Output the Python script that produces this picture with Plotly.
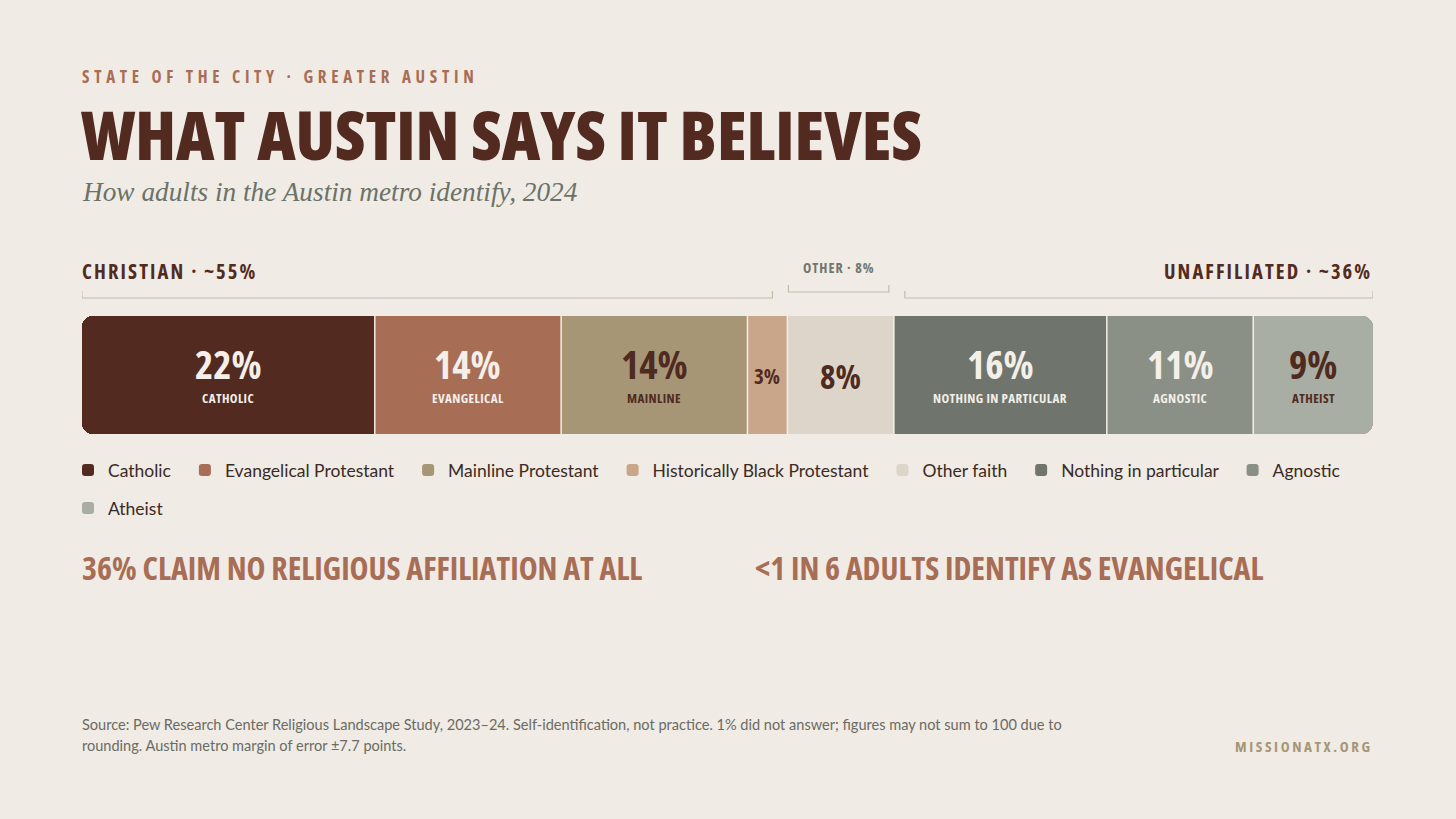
import plotly.graph_objects as go

# ---------------- data ----------------
categories = ["Catholic", "Evangelical Protestant", "Mainline Protestant",
              "Historically Black Protestant", "Other faith",
              "Nothing in particular", "Agnostic", "Atheist"]
values = [22, 14, 14, 3, 8, 16, 11, 9]
bar_sublabels = ["CATHOLIC", "EVANGELICAL", "MAINLINE", "", "",
                 "NOTHING IN PARTICULAR", "AGNOSTIC", "ATHEIST"]
legend_rows = ["legend", "legend", "legend", "legend", "legend", "legend", "legend", "legend2"]
group_names = ["CHRISTIAN · ~55%", "OTHER · 8%", "UNAFFILIATED · ~36%"]
group_members = [[0, 1, 2, 3], [4], [5, 6, 7]]
insights = ["36% CLAIM NO RELIGIOUS AFFILIATION AT ALL",
            "<1 IN 6 ADULTS IDENTIFY AS EVANGELICAL"]

# ---------------- style ----------------
BG = "#f0ebe5"
colors = ["#522a20", "#a86d55", "#a69676", "#c9a58a", "#ddd5ca",
          "#6f756c", "#8a9085", "#a8aea3"]
label_colors = ["#f4efe8", "#f4efe8", "#4f2a20", "#4f2a20", "#4f2a20",
                "#f4efe8", "#f4efe8", "#4f2a20"]
DARK = "#522a20"
RUST = "#a86d55"
COND = "Open Sans, Roboto Condensed, sans-serif"
SANS = "Lato"
SERIF = "Liberation Serif"

FIG_W, FIG_H = 1456, 819
L, R = 82, 1373
TOP, BOT = 316, 434
PW, PH = R - L, BOT - TOP


def px_x(p):
    return (p - L) / PW


def px_y(p):
    return (BOT - p) / PH


def ctext(s, ls=0):
    s = s.replace("<", "&lt;")
    return f"<span style='font-stretch:75%;letter-spacing:{ls}px'>{s}</span>"


signed = [-values[0]] + values[1:]
left_end = -values[0]
right_end = sum(values[1:])
span = right_end - left_end
starts = []
acc = left_end
for v in values:
    starts.append(acc)
    acc += v
mids = [s + v / 2 for s, v in zip(starts, values)]

fig = go.Figure()
for i, (c, v) in enumerate(zip(categories, signed)):
    fig.add_trace(go.Bar(
        x=[v], y=["all"], orientation="h", name=c + "\u00a0\u00a0", legend=legend_rows[i],
        marker=dict(color=colors[i], line=dict(width=0)),
        customdata=[values[i]],
        hovertemplate=c + ": %{customdata}%<extra></extra>",
    ))

shapes = []
for b in starts[1:]:
    shapes.append(dict(type="line", xref="x", yref="paper", x0=b, x1=b, y0=0, y1=1,
                       line=dict(color="#f3efe9", width=1.5)))

annotations = []
for i, v in enumerate(values):
    if bar_sublabels[i]:
        big = 39 if v >= 9 else 31
        annotations.append(dict(
            x=mids[i], y=px_y(363), xref="x", yref="paper", showarrow=False,
            text=ctext(f"{v}%"), font=dict(family=COND, size=big, color=label_colors[i], weight=700),
            xanchor="center", yanchor="middle"))
        annotations.append(dict(
            x=mids[i], y=px_y(398), xref="x", yref="paper", showarrow=False,
            text=ctext(bar_sublabels[i], 0.4), font=dict(family=COND, size=13, color=label_colors[i], weight=700),
            xanchor="center", yanchor="middle"))
    else:
        size = 33 if v >= 5 else 21
        annotations.append(dict(
            x=mids[i], y=px_y(376), xref="x", yref="paper", showarrow=False,
            text=ctext(f"{v}%"), font=dict(family=COND, size=size, color=label_colors[i], weight=700),
            xanchor="center", yanchor="middle"))

px2data = span / PW
bracket_cfg = [
    (0, 15, 298, DARK, 20.5, "left", 2.1),
    (1, 5, 292, "#6f756c", 14, "center", 1.0),
    (11, 0, 298, DARK, 20.5, "right", 2.1),
]
for g, members in enumerate(group_members):
    gx0 = starts[members[0]]
    gx1 = starts[members[-1]] + values[members[-1]]
    li, ri, ly, lc, ls, al, sp = bracket_cfg[g]
    x0 = gx0 + li * px2data
    x1 = gx1 - ri * px2data
    shapes.append(dict(
        type="path", xref="x", yref="paper",
        path=f"M {x0},{px_y(ly - 7)} L {x0},{px_y(ly)} L {x1},{px_y(ly)} L {x1},{px_y(ly - 7)}",
        line=dict(color="#c6bcac", width=1.2)))
    if al == "left":
        ax, xa = x0, "left"
    elif al == "right":
        ax, xa = x1, "right"
    else:
        ax, xa = (x0 + x1) / 2, "center"
    ly_text = 271 if g != 1 else 267
    annotations.append(dict(
        x=ax, y=px_y(ly_text), xref="x", yref="paper", showarrow=False,
        text=ctext(group_names[g], sp),
        font=dict(family=COND, size=ls, color=lc, weight=700),
        xanchor=xa, yanchor="middle", xshift=-2 if xa == "left" else (1 if xa == "right" else 0)))

annotations += [
    dict(x=px_x(80), y=px_y(76), xref="paper", yref="paper", showarrow=False,
         text=ctext("STATE OF THE CITY · GREATER AUSTIN", 4.7),
         font=dict(family=COND, size=17, color=RUST, weight=700),
         xanchor="left", yanchor="middle"),
    dict(x=px_x(79), y=px_y(134), xref="paper", yref="paper", showarrow=False,
         text=ctext("WHAT AUSTIN SAYS IT BELIEVES"),
         font=dict(family=COND, size=67, color=DARK, weight=800),
         xanchor="left", yanchor="middle"),
    dict(x=px_x(80), y=px_y(192), xref="paper", yref="paper", showarrow=False,
         text="<i>How adults in the Austin metro identify, 2024</i>",
         font=dict(family=SERIF, size=27.3, color="#6b7266"),
         xanchor="left", yanchor="middle"),
]
ins_x = [80, 753]
for t, xp in zip(insights, ins_x):
    annotations.append(dict(
        x=px_x(xp), y=px_y(567), xref="paper", yref="paper", showarrow=False,
        text=ctext(t), font=dict(family=COND, size=32, color=RUST, weight=700),
        xanchor="left", yanchor="middle"))

annotations += [
    dict(x=px_x(80), y=px_y(724), xref="paper", yref="paper", showarrow=False,
         text="Source: Pew Research Center Religious Landscape Study, 2023–24. Self-identification, not practice. 1% did not answer; figures may not sum to 100 due to",
         font=dict(family=SANS, size=14.55, color="#6b6b63"), xanchor="left", yanchor="middle"),
    dict(x=px_x(80), y=px_y(745), xref="paper", yref="paper", showarrow=False,
         text="rounding. Austin metro margin of error ±7.7 points.",
         font=dict(family=SANS, size=14.55, color="#6b6b63"), xanchor="left", yanchor="middle"),
    dict(x=px_x(1375), y=px_y(746), xref="paper", yref="paper", showarrow=False,
         text=ctext("MISSIONATX.ORG", 2.6),
         font=dict(family=COND, size=15, color="#a69676", weight=700),
         xanchor="right", yanchor="middle"),
]

legend_style = dict(orientation="h", x=px_x(68), xanchor="left", yanchor="top",
                    font=dict(family=SANS, size=17.5, color="#3a2a24"),
                    bgcolor="rgba(0,0,0,0)", traceorder="normal")

fig.update_layout(
    width=FIG_W, height=FIG_H,
    margin=dict(l=L, r=FIG_W - R, t=TOP, b=FIG_H - BOT, pad=0),
    paper_bgcolor=BG, plot_bgcolor=BG,
    barmode="relative", bargap=0, barcornerradius=10,
    xaxis=dict(range=[left_end, right_end], visible=False, fixedrange=True),
    yaxis=dict(range=[-0.5, 0.5], visible=False, fixedrange=True),
    showlegend=True,
    legend=dict(legend_style, y=px_y(452)),
    legend2=dict(legend_style, y=px_y(490)),
    annotations=annotations, shapes=shapes,
)

fig.write_html("out.html", config={"displayModeBar": False},
               post_script="document.body.style.margin='0';")
